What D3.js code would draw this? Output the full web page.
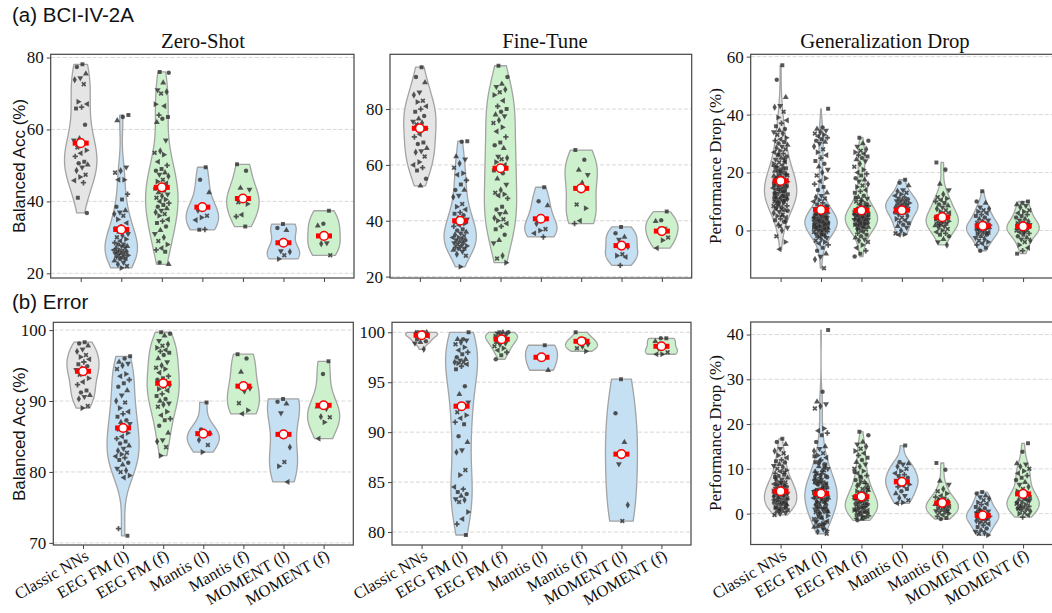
<!DOCTYPE html>
<html>
<head>
<meta charset="utf-8">
<script src="https://cdn.jsdelivr.net/npm/d3@7"></script>
<style>
  body { margin: 0; background: #fff; }
  svg { display: block; }
</style>
</head>
<body>
<svg id="chart"></svg>
<script>
const categories = ["Classic NNs", "EEG FM (l)", "EEG FM (f)", "Mantis (l)", "Mantis (f)", "MOMENT (l)", "MOMENT (f)"];

// (a) BCI-IV-2A, zero-shot balanced accuracy
const bciZeroShot = [
  [78.1, 77.4, 75.5, 74.3, 73.8, 72.6, 67.7, 67.1, 66.2, 65.8, 61.3, 57.5, 57.0, 56.2, 55.0, 54.2, 53.4, 52.5, 51.0, 50.6, 50.2, 49.5, 48.6, 47.4, 46.8, 45.8, 45.2, 41.0, 36.8],
  [64.0, 63.5, 62.5, 49.5, 48.5, 48.0, 46.0, 46.0, 42.0, 40.5, 38.5, 37.5, 37.0, 36.5, 36.0, 35.0, 34.0, 33.0, 32.5, 32.0, 31.5, 31.0, 30.5, 30.0, 29.5, 29.0, 28.5, 28.0, 28.0, 27.5, 27.5, 27.0, 27.0, 26.5, 26.5, 26.0, 26.0, 26.0, 25.5, 25.5, 25.0, 25.0, 25.0, 24.5, 24.5, 24.0, 24.0, 23.5, 23.0, 22.5, 22.0, 21.5],
  [76.0, 75.8, 73.0, 71.0, 70.5, 70.0, 67.0, 66.5, 64.0, 63.5, 63.0, 62.0, 57.0, 54.0, 53.5, 53.0, 51.0, 50.0, 49.0, 48.5, 48.0, 47.5, 47.0, 46.0, 45.5, 45.0, 44.0, 43.5, 43.0, 42.5, 42.0, 41.5, 41.0, 40.5, 40.0, 39.5, 39.0, 38.5, 38.0, 37.5, 37.0, 36.5, 36.0, 35.0, 34.5, 34.0, 33.0, 32.0, 31.0, 30.0, 29.0, 28.0, 27.0, 26.5, 26.0, 23.0, 22.5],
  [49.5, 46.0, 42.5, 38.0, 37.5, 36.0, 35.5, 34.8, 32.2, 32.1],
  [50.3, 48.5, 43.7, 43.3, 41.0, 39.8, 39.3, 36.3, 35.8, 33.0],
  [33.7, 32.6, 32.0, 26.2, 26.0, 25.0, 24.0],
  [37.4, 33.8, 33.2, 28.4, 28.2, 25.0]
];
const bciZeroShotMeans = [56.2, 32.2, 43.9, 38.4, 40.8, 28.5, 30.4];

// (a) BCI-IV-2A, fine-tuned balanced accuracy
const bciFineTune = [
  [95.0, 91.5, 89.5, 86.0, 85.0, 83.0, 82.5, 81.0, 80.0, 79.0, 77.5, 76.5, 75.5, 75.0, 74.5, 73.0, 71.0, 70.0, 68.0, 67.5, 66.0, 65.0, 64.5, 63.0, 61.0, 60.0, 59.0, 58.0, 55.0, 52.5],
  [68.5, 68.3, 63.0, 62.0, 60.5, 59.0, 57.0, 56.5, 54.5, 53.0, 51.0, 51.0, 49.0, 48.5, 46.0, 45.0, 44.0, 43.0, 42.5, 42.0, 41.0, 40.5, 40.0, 39.5, 39.0, 38.5, 38.0, 37.0, 36.5, 36.0, 35.5, 35.0, 34.5, 34.0, 34.0, 33.5, 33.0, 33.0, 32.5, 32.0, 32.0, 31.5, 31.0, 31.0, 30.5, 30.0, 30.0, 29.5, 29.0, 28.0, 27.5, 23.5],
  [95.5, 91.5, 89.0, 88.0, 87.0, 86.0, 85.0, 83.0, 81.0, 80.0, 79.0, 78.0, 77.5, 76.0, 75.0, 73.5, 72.0, 70.0, 68.0, 67.0, 66.0, 63.0, 62.5, 62.0, 61.0, 60.0, 59.0, 58.0, 57.0, 55.0, 53.0, 51.0, 50.0, 49.5, 49.0, 48.0, 45.0, 44.0, 43.0, 42.5, 41.0, 40.5, 40.0, 39.0, 38.0, 37.0, 35.0, 33.0, 32.0, 27.5, 26.5, 25.0],
  [52.0, 47.0, 45.5, 41.0, 39.0, 37.0, 36.5, 35.5, 34.2],
  [65.3, 61.8, 58.2, 56.5, 53.5, 45.8, 44.5, 40.0, 39.0],
  [37.8, 35.5, 34.2, 33.3, 30.8, 28.0, 27.5, 27.0, 24.0],
  [43.3, 40.2, 39.8, 37.2, 36.8, 34.0, 33.0, 30.2]
];
const bciFineTuneMeans = [73.1, 40.0, 58.8, 40.7, 51.6, 31.1, 36.3];

// (a) BCI-IV-2A, generalization drop
const bciDrop = [
  [57.0, 52.0, 46.0, 43.0, 42.5, 41.0, 39.0, 38.0, 37.0, 36.0, 35.0, 34.5, 34.0, 33.5, 33.0, 32.0, 31.5, 31.0, 30.5, 30.0, 29.5, 29.0, 28.5, 28.0, 27.5, 27.0, 26.5, 26.0, 25.5, 25.0, 24.5, 24.0, 23.5, 23.0, 22.5, 22.0, 21.5, 21.0, 20.5, 20.0, 19.5, 19.0, 18.5, 18.0, 17.5, 17.0, 16.5, 16.0, 15.5, 15.0, 14.5, 14.0, 13.5, 13.0, 12.5, 12.0, 11.5, 11.0, 10.5, 10.0, 9.5, 9.0, 8.5, 8.0, 7.5, 7.0, 6.5, 6.0, 5.5, 5.0, 4.5, 4.0, 3.5, 3.0, 2.0, 1.0, 0.0, -2.0, -4.0, -6.5, 22.2, 21.3, 20.7, 19.2, 18.2, 17.7, 16.2, 15.2, 14.7, 13.2, 12.7, 11.8, 11.2, 10.7, 9.8, 8.8, 16.8, 14.2, 12.2, 13.7, 15.8, 18.8, 10.2, 9.3, 17.3, 19.7, 11.5, 24.8, 26.2, 6.8, 5.2, 7.8, 3.2, 1.5, 12.4, 13.4, 14.4, 15.4, 16.4, 11.4, 10.4, 9.4, 8.4, 17.4, 18.4, 19.4, 20.4, 12.9, 14.9, 16.9, 10.9, 7.4, 21.9, 23.7, 13.9, 15.6, 11.9, 9.9],
  [42.0, 35.5, 35.0, 34.5, 34.0, 33.5, 33.0, 32.5, 32.0, 31.5, 31.0, 30.5, 30.0, 29.0, 28.0, 27.0, 26.0, 25.0, 24.0, 23.0, 22.0, 21.0, 20.0, 19.0, 18.0, 17.0, 16.0, 15.0, 14.0, 13.0, 12.0, 11.5, 11.0, 10.5, 10.0, 9.5, 9.0, 8.5, 8.0, 7.5, 7.0, 6.5, 6.0, 5.8, 5.5, 5.2, 5.0, 4.8, 4.5, 4.3, 4.0, 3.8, 3.5, 3.3, 3.0, 2.8, 2.5, 2.3, 2.0, 1.8, 1.5, 1.3, 1.0, 0.8, 0.5, 0.3, 0.0, -0.3, -0.5, -1.0, 4.1, 3.1, 2.1, 1.1, 3.6, 2.6, 1.6, 4.6, 2.9, 3.4, 2.2, 1.4, -1.5, -2.0, -2.5, -3.0, -3.5, -4.0, -4.5, -5.0, -6.0, -7.0, -8.0, -9.0, -10.0, -13.0, 0.1, 0.6, 1.2, 1.7, 2.4, 2.7, 3.2, 3.7, 4.2, 4.7, 5.3, 5.6, 6.2, 0.4, 0.9, 1.9, 2.6, 3.0, 3.9, 4.4, 5.1, 5.9, 6.8, -0.7, -1.2, -1.8, -2.2, 1.0, 2.0, 3.0, 4.0, 2.5, 3.5, 1.5, 7.2, 8.1, -0.1, 0.7, 0.2, 1.4, 2.2, 2.9, 3.4, 4.1, 4.9, 5.4, 0.6, 1.6, 2.4, 3.1, 3.8, 4.6, 5.7, 1.9, 2.7, 3.6, -0.4, -1.4, 1.1, 2.1, 3.3, 4.3, 6.4],
  [32.0, 31.0, 30.0, 29.0, 28.0, 27.5, 27.0, 26.5, 26.0, 25.5, 25.0, 24.5, 24.0, 23.0, 22.0, 21.0, 20.0, 19.5, 19.0, 18.0, 17.5, 17.0, 16.0, 15.5, 15.0, 14.0, 13.5, 13.0, 12.0, 11.5, 11.0, 10.5, 10.0, 9.5, 9.0, 8.5, 8.0, 7.5, 7.0, 6.5, 6.0, 5.7, 5.4, 5.1, 4.8, 4.5, 4.2, 3.9, 3.6, 3.3, 3.0, 2.7, 2.4, 2.1, 1.8, 1.5, 1.2, 0.9, 0.6, 0.3, 0.0, 5.5, 4.4, 3.5, 2.5, 1.7, 4.9, 3.1, 2.2, 6.2, -0.5, -1.0, -1.5, -2.0, -2.5, -3.0, -3.5, -4.0, -5.0, -6.0, -7.0, -8.0, -9.0, 1.1, 1.9, 2.8, 3.4, 4.1, 4.6, 5.3, 5.9, 6.6, 7.3, 8.2, 9.1, 2.0, 3.0, 4.0, 5.0, 6.0, 7.0, 3.7, 4.3, 5.6, 1.4, 0.5, 8.8, 10.2, 11.3, 2.3, 3.2, 3.8, 4.7, 5.2, 6.4, 2.6, 4.0, 5.8, 3.6],
  [17.5, 16.5, 15.5, 14.0, 13.5, 13.0, 12.5, 12.0, 11.5, 11.0, 10.8, 10.5, 10.2, 10.0, 9.8, 9.5, 9.2, 9.0, 8.8, 8.5, 8.2, 8.0, 7.8, 7.5, 7.2, 7.0, 6.8, 6.5, 6.2, 6.0, 5.5, 5.0, 4.5, 4.0, 3.5, 3.0, 2.5, 2.0, 1.5, 1.0, 0.0, -1.0, -1.3, -1.5],
  [23.5, 21.0, 16.0, 14.0, 12.5, 11.5, 11.0, 10.5, 10.0, 9.5, 9.0, 8.5, 8.0, 7.5, 7.0, 6.5, 6.0, 5.5, 5.0, 4.7, 4.4, 4.1, 3.8, 3.5, 3.2, 2.9, 2.6, 2.3, 2.0, 1.7, 1.4, 1.0, 0.5, 0.0, -0.5, -1.0, -1.5, -2.0, -3.0, -4.0, -5.0, 3.0, 4.0, 5.0, 2.0],
  [13.5, 10.0, 9.5, 8.0, 7.5, 7.0, 6.5, 6.0, 5.5, 5.0, 4.5, 4.0, 3.5, 3.0, 2.7, 2.4, 2.1, 1.8, 1.5, 1.2, 0.9, 0.6, 0.3, 0.0, -0.3, -0.6, -0.9, -1.2, -1.5, -2.0, -2.5, -3.0, -3.5, -4.0, -4.5, -5.0, -6.0, -7.0, 1.0, 2.0, 0.5, -1.0],
  [10.0, 9.5, 9.0, 8.5, 8.0, 7.0, 6.5, 6.0, 5.5, 5.0, 4.5, 4.0, 3.5, 3.0, 2.7, 2.4, 2.1, 1.8, 1.5, 1.2, 0.9, 0.6, 0.3, 0.0, -0.3, -0.6, -1.0, -1.5, -2.0, -2.5, -3.0, -3.5, -4.0, -5.0, -6.0, -7.0, -8.0, 1.0, 0.5, 2.0, -0.5]
];
const bciDropMeans = [17.1, 7.1, 6.9, 7.0, 4.6, 1.6, 1.4];

// (b) Error, zero-shot balanced accuracy
const errZeroShot = [
  [98.3, 98.1, 97.8, 97.3, 97.0, 96.5, 96.2, 95.9, 95.5, 95.2, 94.9, 94.6, 94.4, 94.0, 93.7, 93.2, 92.7, 92.3, 91.5, 91.2, 90.8, 90.6, 90.3, 89.3, 89.0],
  [96.3, 96.0, 95.5, 95.3, 95.0, 94.5, 93.8, 93.5, 93.0, 92.5, 92.0, 91.5, 90.8, 90.0, 89.8, 89.0, 88.5, 88.2, 87.8, 87.3, 87.0, 86.8, 86.5, 86.0, 85.5, 85.0, 84.7, 84.3, 84.0, 83.7, 83.3, 83.0, 82.7, 82.5, 82.2, 82.0, 81.7, 81.3, 81.0, 80.5, 80.2, 80.0, 79.5, 79.2, 72.0, 71.0],
  [99.7, 99.5, 99.2, 98.5, 98.0, 97.8, 97.5, 97.2, 97.0, 96.8, 96.5, 96.0, 95.5, 95.0, 94.7, 94.5, 94.0, 93.5, 93.2, 93.0, 92.7, 92.5, 92.3, 92.0, 91.7, 91.5, 91.0, 90.7, 90.3, 90.0, 89.7, 89.5, 89.2, 88.5, 88.0, 87.5, 87.3, 86.5, 85.5, 84.5, 84.3, 83.5, 82.3],
  [89.8, 86.0, 85.5, 85.2, 84.5, 83.8, 82.8],
  [96.6, 96.0, 94.1, 91.8, 91.4, 89.7, 88.7, 88.2],
  [90.3, 89.9, 89.6, 88.3, 83.5, 81.4, 80.8, 78.6],
  [95.6, 93.8, 89.2, 88.9, 87.8, 87.7, 87.0, 84.7]
];
const errZeroShotMeans = [94.2, 86.2, 92.5, 85.4, 92.1, 85.3, 89.4];

// (b) Error, fine-tuned balanced accuracy
const errFineTune = [
  [100.0, 100.0, 100.0, 99.9, 99.9, 99.8, 99.7, 99.6, 99.5, 99.3, 99.1, 99.0, 98.9, 98.3],
  [100.0, 99.3, 99.3, 99.2, 99.0, 98.8, 98.5, 98.2, 98.0, 97.8, 97.5, 97.3, 97.2, 97.0, 97.0, 96.9, 96.8, 96.6, 96.3, 94.6, 93.8, 93.0, 92.5, 92.0, 91.7, 91.4, 91.0, 90.8, 89.6, 89.0, 88.2, 88.0, 86.2, 85.7, 84.5, 84.3, 84.0, 83.8, 83.6, 83.3, 83.2, 83.0, 82.0, 81.3, 80.8, 79.7],
  [100.0, 100.0, 100.0, 99.9, 99.8, 99.7, 99.6, 99.5, 99.4, 99.3, 99.2, 99.0, 98.9, 98.8, 98.6, 98.4, 98.2, 98.0, 97.7, 97.3],
  [98.7, 97.6, 96.2],
  [100.0, 99.3, 99.2, 98.8, 98.6, 98.4, 98.1],
  [95.3, 91.9, 89.0, 86.8, 82.7, 81.1],
  [99.4, 99.4, 99.1, 98.6, 98.4, 98.0, 97.8, 97.8]
];
const errFineTuneMeans = [99.7, 92.6, 99.3, 97.5, 99.1, 87.8, 98.6];

// (b) Error, generalization drop
const errDrop = [
  [16.7, 16.0, 15.5, 14.5, 14.0, 13.5, 13.0, 12.5, 12.0, 11.7, 11.4, 11.0, 10.7, 10.4, 10.0, 9.7, 9.4, 9.0, 8.7, 8.4, 8.0, 7.7, 7.4, 7.0, 6.8, 6.6, 6.4, 6.2, 6.0, 5.8, 5.6, 5.4, 5.2, 5.0, 4.8, 4.6, 4.4, 4.2, 4.0, 3.8, 3.6, 3.4, 3.2, 3.0, 2.8, 2.6, 2.4, 2.2, 2.0, 1.8, 1.6, 1.4, 1.2, 1.0, 0.8, 0.6, 0.4, 0.2, 0.0, -0.3, 5.3, 4.3, 3.3, 2.3, 1.3, 6.3, 0.5, 3.9, 4.9, 2.9, 1.9, 7.2, 8.2, 2.5, 3.5, 4.5, 5.5, 6.5, 1.5, 0.9, 3.1, 4.1, 5.1, 2.1, 6.9, 7.9, 9.2],
  [41.0, 27.2, 25.0, 24.5, 24.0, 23.5, 19.0, 18.5, 18.0, 17.5, 16.0, 15.0, 14.5, 14.0, 13.5, 13.0, 12.5, 12.0, 11.5, 11.0, 10.5, 10.0, 9.5, 9.0, 8.5, 8.0, 7.5, 7.0, 6.5, 6.0, 5.5, 5.0, 4.5, 4.0, 3.5, 3.0, 2.5, 2.0, 1.5, 1.0, 0.5, 0.0, -0.5, -1.0, -1.5, -2.0, -2.5, -3.0, -3.5, -4.0, -4.5, 7.8, 6.8, 5.8, 4.8, 3.8, 2.8, 1.8, 0.8, -0.2, 7.2, 6.2, 5.2, 4.2, 3.2, 2.2, 1.2, 0.2, -1.2, -2.2, 6.6, 5.6, 4.6, 3.6, 2.6, 1.6, 0.6, 9.2, 8.8, 10.8, 11.8, 12.8, -3.2, -2.8, 3.4, 4.4, 0.3, 1.3, 2.3, 3.3, 4.3, 5.3, 6.3, 7.3, 8.3, 9.7, -0.7, -1.7, -2.6, 1.9, 2.9, 3.9, 4.9, 5.9, 0.9, -3.8, 6.9, 7.7, 10.3, 11.3, 0.4, 1.1, 2.7, 3.1, 4.1, 5.1, 6.1, 7.1, 8.1, -0.9, -1.9, 2.4, 3.7, 4.7, 5.7, 1.4, 6.7, 8.6, 9.4, -2.4],
  [18.3, 17.5, 16.0, 15.5, 15.0, 14.5, 14.0, 13.5, 13.0, 12.5, 12.0, 11.5, 11.0, 10.5, 10.0, 9.5, 9.0, 8.5, 8.0, 7.5, 7.0, 6.5, 6.0, 5.5, 5.0, 4.5, 4.0, 3.5, 3.0, 2.5, 2.0, 1.5, 1.0, 0.5, 0.0, -0.5, -1.0, -1.5, 3.2, 2.7, 2.2, 1.7, 1.2, 0.7, 0.2, -0.3, -0.8, 4.2, 3.7, 2.9, 2.4, 1.9, 1.4, 0.9, 0.4, -0.2, 5.2, 4.7, 6.2, 5.7, 7.2, 3.4, 2.1, 1.1, 0.1, -1.2, 0.6, 1.6, 0.3, 0.8, 1.3, 1.8, 2.3, 2.8, 3.3, 3.8, 4.4, 5.4, -0.6, -1.1, 6.7, 8.3, 9.3],
  [15.2, 11.5, 11.2, 11.0, 10.5, 10.0, 9.5, 9.0, 8.7, 8.4, 8.0, 7.7, 7.4, 7.0, 6.8, 6.5, 6.2, 6.0, 5.5, 5.0, 4.5, 4.0, 3.5, 3.0, 2.5, 2.3],
  [11.3, 9.8, 7.3, 6.5, 5.5, 5.0, 4.5, 4.0, 3.7, 3.4, 3.1, 2.8, 2.5, 2.2, 2.0, 1.8, 1.6, 1.4, 1.2, 1.0, 0.8, 0.6, 0.4, 0.2, 0.0, -0.3, -0.6, -1.0, -1.2, 2.1, 1.5, 3.0, 0.5],
  [4.8, 4.5, 4.0, 3.7, 3.3, 3.0, 2.5, 2.2, 2.0, 1.5, 1.2, 1.0, 0.5, 0.2, 0.0, -0.2, -0.4, -0.6, -0.8, -1.0, -1.2, -1.4, -1.6, -1.8, -2.0, -2.3, -2.6, -3.0, -3.3, -3.7, -4.0, -4.3, -4.5, -4.8, -0.5, 0.3, -1.1, 0.7],
  [15.7, 13.8, 11.2, 11.0, 10.5, 10.0, 9.5, 9.0, 8.5, 8.0, 7.5, 7.0, 6.5, 6.0, 5.5, 5.0, 4.5, 4.0, 3.7, 3.4, 3.1, 2.8, 2.5, 2.2, 2.0, 1.8, 1.6, 1.4, 1.2, 1.0, 0.8, 0.5, 0.2, 0.0, -0.3, -0.8, 2.4, 3.2, 1.5, 2.9, 3.6, 1.1]
];
const errDropMeans = [5.0, 4.5, 3.8, 7.1, 2.4, -0.4, 4.4];

// colours: grey for classic, blue for linear probe (l), green for fine-tune (f)
const fills = ["#e5e5e5", "#c5dff3", "#cdf1cd", "#c5dff3", "#cdf1cd", "#c5dff3", "#cdf1cd"];

const panels = [
  { data: bciZeroShot, means: bciZeroShotMeans, box: [50.7, 54.3, 354, 278], y: [18.7, 80.9], ticks: [20, 40, 60, 80], title: "Zero-Shot", titleX: 203 },
  { data: bciFineTune, means: bciFineTuneMeans, box: [390, 54.3, 691.7, 278], y: [19.5, 99.6], ticks: [20, 40, 60, 80], title: "Fine-Tune", titleX: 545 },
  { data: bciDrop, means: bciDropMeans, box: [750.7, 54.3, 1053, 278], y: [-16.4, 60.8], ticks: [0, 20, 40, 60], title: "Generalization Drop", titleX: 885 },
  { data: errZeroShot, means: errZeroShotMeans, box: [53.3, 322.3, 353.3, 545], y: [69.7, 101.1], ticks: [70, 80, 90, 100], labels: true },
  { data: errFineTune, means: errFineTuneMeans, box: [392, 322.3, 691, 545], y: [78.7, 101.0], ticks: [80, 85, 90, 95, 100], labels: true },
  { data: errDrop, means: errDropMeans, box: [750.7, 322, 1053, 544.5], y: [-6.9, 42.8], ticks: [0, 10, 20, 30, 40], labels: true }
];

const width = 1052, height = 613;
const serif = "'Liberation Serif', 'Times New Roman', serif";
const sans = "'Liberation Sans', Arial, sans-serif";

const svg = d3.select("#chart")
  .attr("width", width)
  .attr("height", height);

const markerTypes = [
  { t: d3.symbolSquare, r: 0 }, { t: d3.symbolCircle, r: 0 }, { t: d3.symbolTriangle, r: 0 },
  { t: d3.symbolTriangle, r: 180 }, { t: d3.symbolDiamond, r: 0 }, { t: d3.symbolCross, r: 45 },
  { t: d3.symbolTriangle, r: 90 }, { t: d3.symbolTriangle, r: 270 }, { t: d3.symbolCross, r: 0 }
];

// gaussian kde, scott bandwidth, cut at data range
function kde(values) {
  const n = values.length;
  const sd = d3.deviation(values) || 1;
  const bw = sd * Math.pow(n, -0.2);
  const [lo, hi] = d3.extent(values);
  return d3.range(0, 121).map(i => {
    const v = lo + (hi - lo) * i / 120;
    return [v, d3.sum(values, x => Math.exp(-0.5 * ((v - x) / bw) ** 2))];
  });
}

panels.forEach(p => {
  const [x0, y0, x1, y1] = p.box;
  const g = svg.append("g");

  const x = d3.scaleLinear().domain([-0.74, categories.length - 0.26]).range([x0, x1]);
  const y = d3.scaleLinear().domain(p.y).range([y1, y0]);
  const band = x(1) - x(0);

  g.append("defs").append("clipPath").attr("id", "clip" + x0 + y0)
    .append("rect").attr("x", x0).attr("y", y0).attr("width", x1 - x0).attr("height", y1 - y0);

  // dashed grid
  g.selectAll("line.grid")
    .data(p.ticks)
    .enter()
    .append("line")
    .attr("class", "grid")
    .attr("x1", x0).attr("x2", x1)
    .attr("y1", d => y(d)).attr("y2", d => y(d))
    .attr("stroke", "#d4d4d4")
    .attr("stroke-width", 0.9)
    .attr("stroke-dasharray", "4,2");

  const plot = g.append("g").attr("clip-path", `url(#clip${x0}${y0})`);

  // violins
  p.data.forEach((vals, i) => {
    const dens = kde(vals);
    const maxD = d3.max(dens, d => d[1]);
    const w = d3.scaleLinear().domain([0, maxD]).range([0, 0.4 * band]);
    const area = d3.area()
      .y(d => y(d[0]))
      .x0(d => x(i) - w(d[1]))
      .x1(d => x(i) + w(d[1]));
    plot.append("path")
      .datum(dens)
      .attr("d", area)
      .attr("fill", fills[i])
      .attr("stroke", "#a3a3a3")
      .attr("stroke-width", 1.3)
      .attr("stroke-linejoin", "round");
  });

  // jittered points
  p.data.forEach((vals, i) => {
    plot.selectAll(null)
      .data(vals)
      .enter()
      .append("path")
      .attr("d", (d, k) => d3.symbol().type(markerTypes[k % markerTypes.length].t).size(16)())
      .attr("transform", (d, k) => {
        const j = (((k + 1) * 0.6180339887 + i * 0.37) % 1 - 0.5) * 0.36 * band;
        return `translate(${x(i) + j},${y(d)}) rotate(${markerTypes[k % markerTypes.length].r})`;
      })
      .attr("fill", "#2a2a2a")
      .attr("fill-opacity", 0.8)
      .attr("stroke", "#ffffff")
      .attr("stroke-opacity", 0.35)
      .attr("stroke-width", 0.3);
  });

  // mean markers
  p.means.forEach((m, i) => {
    plot.append("rect")
      .attr("x", x(i) - 8).attr("y", y(m) - 2.5)
      .attr("width", 16).attr("height", 5)
      .attr("fill", "#ff0000");
    plot.append("circle")
      .attr("cx", x(i)).attr("cy", y(m))
      .attr("r", 4.3)
      .attr("fill", "#ffffff")
      .attr("stroke", "#ff0000")
      .attr("stroke-width", 1.5);
  });

  // frame
  g.append("rect")
    .attr("x", x0).attr("y", y0)
    .attr("width", x1 - x0).attr("height", y1 - y0)
    .attr("fill", "none")
    .attr("stroke", "#444")
    .attr("stroke-width", 1.2);

  // y axis
  const yAxis = g.append("g")
    .attr("transform", `translate(${x0},0)`)
    .call(d3.axisLeft(y).tickValues(p.ticks).tickSize(4).tickPadding(3));
  yAxis.select(".domain").remove();
  yAxis.selectAll(".tick line").attr("stroke", "#444");
  yAxis.selectAll("text")
    .attr("font-family", serif)
    .attr("font-size", 17)
    .attr("fill", "#111");

  // x axis
  const xAxis = g.append("g")
    .attr("transform", `translate(0,${y1})`)
    .call(d3.axisBottom(x).tickValues(d3.range(categories.length)).tickSize(4).tickFormat(""));
  xAxis.select(".domain").remove();
  xAxis.selectAll(".tick line").attr("stroke", "#444");

  if (p.labels) {
    g.selectAll("text.cat")
      .data(categories)
      .enter()
      .append("text")
      .attr("class", "cat")
      .attr("transform", (d, i) => `translate(${x(i) + 4},${y1 + 9}) rotate(-30)`)
      .attr("text-anchor", "end")
      .attr("dy", "0.35em")
      .attr("font-family", serif)
      .attr("font-size", 16.5)
      .attr("fill", "#111")
      .text(d => d);
  }

  if (p.title) {
    svg.append("text")
      .attr("x", p.titleX)
      .attr("y", 48)
      .attr("text-anchor", "middle")
      .attr("font-family", serif)
      .attr("font-size", 20.7)
      .attr("fill", "#111")
      .text(p.title);
  }
});

// axis labels
const yLabels = [
  { text: "Balanced Acc (%)", x: 19, y: 166, font: sans, size: 17 },
  { text: "Balanced Acc (%)", x: 19, y: 434, font: sans, size: 17 },
  { text: "Performance Drop (%)", x: 715, y: 166, font: serif, size: 17 },
  { text: "Performance Drop (%)", x: 715, y: 433, font: serif, size: 17 }
];
svg.selectAll("text.ylab")
  .data(yLabels)
  .enter()
  .append("text")
  .attr("class", "ylab")
  .attr("transform", d => `translate(${d.x},${d.y}) rotate(-90)`)
  .attr("text-anchor", "middle")
  .attr("dy", "0.35em")
  .attr("font-family", d => d.font)
  .attr("font-size", d => d.size)
  .attr("fill", "#111")
  .text(d => d.text);

// row headings
svg.append("text")
  .attr("x", 12).attr("y", 22)
  .attr("font-family", sans).attr("font-size", 20.5).attr("fill", "#111")
  .text("(a) BCI-IV-2A");
svg.append("text")
  .attr("x", 12).attr("y", 308.5)
  .attr("font-family", sans).attr("font-size", 20.5).attr("fill", "#111")
  .text("(b) Error");
</script>
</body>
</html>
